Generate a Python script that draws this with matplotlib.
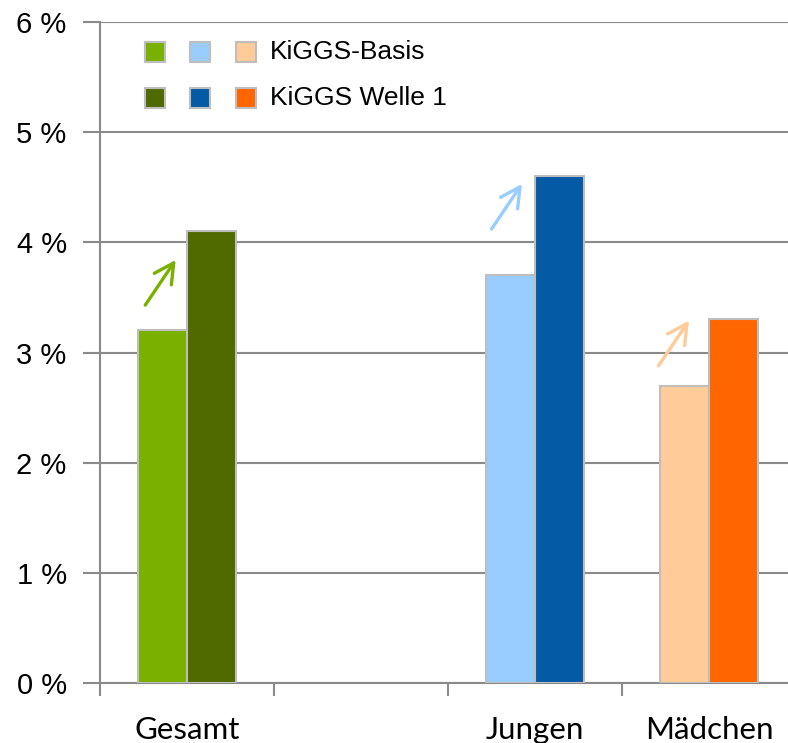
import matplotlib
matplotlib.use("Agg")
import matplotlib.pyplot as plt
from matplotlib.patches import Rectangle

# Data
categories = ["Gesamt", "", "Jungen", "Mädchen"]
basis = [3.2, None, 3.7, 2.7]
welle1 = [4.1, None, 4.6, 3.3]
basis_colors = ["#7AB000", None, "#99CCFF", "#FFCC99"]
welle_colors = ["#506A00", None, "#055AA6", "#FF6600"]
yticks = [0, 1, 2, 3, 4, 5, 6]
ytick_labels = ["0 %", "1 %", "2 %", "3 %", "4 %", "5 %", "6 %"]
legend_labels = ["KiGGS-Basis", "KiGGS Welle 1"]

# arrow styling (offsets relative to the base bar)
arrow_dx0 = [-0.24, None, -0.25, -0.29]
arrow_dy0 = [0.23, None, 0.42, 0.18]
arrow_len = (0.175, 0.41)

grid_c = "#8A8A8A"
edge_c = "#BEBEBE"

fig = plt.figure(figsize=(7.88, 7.43), dpi=100)
ax = fig.add_axes([100/788, 1-683/743, 688/788, (683-22)/743])

w = 0.28
for i, cat in enumerate(categories):
    if basis[i] is None:
        continue
    ax.bar(i - w/2, basis[i], width=w, color=basis_colors[i], edgecolor=edge_c, linewidth=1.5, zorder=3)
    ax.bar(i + w/2, welle1[i], width=w, color=welle_colors[i], edgecolor=edge_c, linewidth=1.5, zorder=3)
    x0 = i + arrow_dx0[i]
    y0 = basis[i] + arrow_dy0[i]
    ax.annotate("", xy=(x0 + arrow_len[0], y0 + arrow_len[1]), xytext=(x0, y0),
                arrowprops=dict(arrowstyle="->,head_length=0.7,head_width=0.37",
                                mutation_scale=20,
                                color=basis_colors[i], lw=2.4, shrinkA=0, shrinkB=0),
                zorder=4)

ax.set_yticks(yticks)
ax.set_yticklabels(ytick_labels, fontsize=21, family="Liberation Sans")
ax.yaxis.grid(True, color=grid_c, linewidth=1.5, zorder=0)
ax.set_axisbelow(True)

ax.set_xticks(range(len(categories)))
ax.set_xticklabels(categories, fontsize=22.5, family="Lato")
ax.set_xticks([-0.5, 0.5, 1.5, 2.5, 3.5], minor=True)
ax.tick_params(axis="x", which="major", length=0, pad=24)
ax.tick_params(axis="x", which="minor", length=9, width=1.5, color=grid_c, direction="out")
ax.tick_params(axis="y", length=12, width=1.5, color=grid_c, direction="out", pad=12)
ax.set_ylim(0, 6)
ax.set_xlim(-0.5, -0.5 + 688/174)

for s in ["top", "right"]:
    ax.spines[s].set_visible(False)
for s in ["left", "bottom"]:
    ax.spines[s].set_color(grid_c)
    ax.spines[s].set_linewidth(1.5)

# Legend (manual)
row_y = [52, 98]
sq_x = [145, 190, 236]
row_cols = [[basis_colors[0], basis_colors[2], basis_colors[3]],
            [welle_colors[0], welle_colors[2], welle_colors[3]]]
for r in range(2):
    for k in range(3):
        fig.patches.append(Rectangle((sq_x[k]/788, 1-(row_y[r]+10)/743), 20/788, 20/743,
                                     transform=fig.transFigure, facecolor=row_cols[r][k],
                                     edgecolor=edge_c, linewidth=1.5))
    fig.text(270/788, 1-row_y[r]/743, legend_labels[r], fontsize=19, family="Liberation Sans",
             va="center", ha="left")

fig.savefig("out.png", dpi=100)
